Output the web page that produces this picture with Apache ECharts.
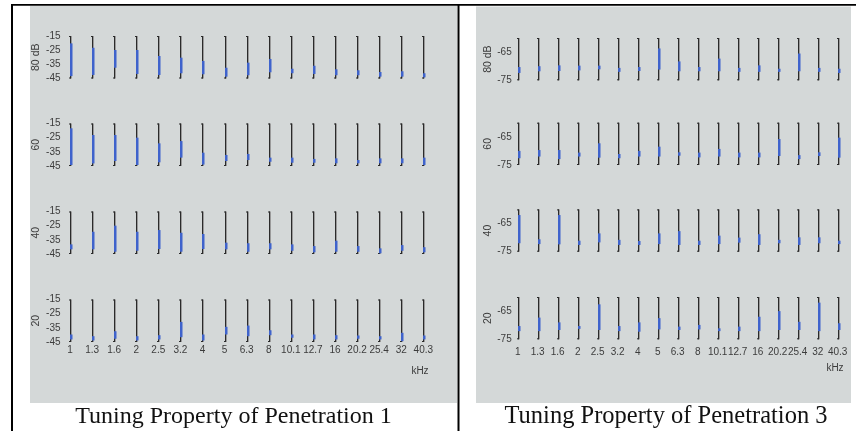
<!DOCTYPE html>
<html><head><meta charset="utf-8">
<script src="https://cdn.jsdelivr.net/npm/echarts@6/dist/echarts.min.js"></script>
<style>html,body{margin:0;padding:0;background:#fff}#c{width:856px;height:431px}</style>
</head><body><div id="c"></div>
<script>
// Frequencies (kHz)
const freqLabels = ['1','1.3','1.6','2','2.5','3.2','4','5','6.3','8','10.1','12.7','16','20.2','25.4','32','40.3'];
const rowLabels = ['80 dB','60','40','20'];
const p1Range = [-45, -15];
const p3Range = [-75, -60];
const p1YTicks = [-45, -35, -25, -15];
const p3YTicks = [-75, -65];
const captions = ['Tuning Property of Penetration 1', 'Tuning Property of Penetration 3'];

// Penetration 1 – blue response ranges (high / low) per level
const p1_80High = [-20.2,-23.3,-24.9,-24.9,-29.1,-30.3,-32.6,-37.4,-33.8,-31.2,-38.1,-36,-38.5,-39.2,-40.4,-39.9,-41.3];
const p1_80Low  = [-43.3,-42.5,-37.4,-41.8,-42.5,-41.3,-42,-43.7,-42.7,-40.6,-41.3,-41.8,-42.7,-42.7,-43.7,-43.7,-44.2];
const p1_60High = [-18.4,-23.1,-23.1,-25,-29,-27.4,-35.6,-37.2,-36.5,-39.1,-39.1,-40,-39.6,-40.8,-39.6,-39.6,-39.1];
const p1_60Low  = [-44.3,-43.2,-41.5,-44.3,-42.4,-39.1,-44,-41.5,-40.8,-42,-42.7,-42.7,-43.1,-43.1,-43.1,-43.1,-44.3];
const p1_40High = [-38.2,-29.3,-25,-29.3,-28.1,-30,-30.9,-37,-37.4,-37.4,-38.2,-39.4,-35.6,-39.4,-41,-38.7,-40.2];
const p1_40Low  = [-41.7,-41.7,-43.4,-42.7,-41.5,-43.4,-41.5,-41.7,-43.4,-41.7,-42.7,-43.8,-43.4,-43.4,-44.5,-42.7,-43.8];
const p1_20High = [-39.7,-40.9,-37.4,-40.9,-40.2,-30.8,-39.7,-34.3,-33.4,-36.7,-39.7,-39.7,-40.2,-40.4,-40.9,-38.5,-40.4];
const p1_20Low  = [-43.2,-43.9,-42.7,-43.9,-43.2,-41.6,-43.9,-39.7,-40.9,-40.2,-42,-43.2,-43.2,-42.7,-43.2,-44.4,-43.2];

// Penetration 3
const p3_80High = [-70.3,-70,-69.7,-69.8,-69.8,-70.6,-70.3,-63.7,-68.3,-70.3,-67.3,-70.6,-69.7,-70.9,-65.5,-70.6,-70.9];
const p3_80Low  = [-72.4,-71.8,-71.7,-71.5,-71.1,-72,-71.7,-71.2,-71.8,-71.8,-71.8,-72,-72,-72,-71.8,-72,-72.4];
const p3_60High = [-70,-69.7,-69.7,-70.6,-67.3,-71.1,-70,-68.5,-70.5,-70.6,-69.3,-70.6,-70.6,-65.8,-71.5,-70.5,-65.3];
const p3_60Low  = [-72.6,-72,-72.9,-72,-72.4,-72.6,-72,-72,-71.7,-72.3,-72,-72.3,-72.3,-71.8,-72.9,-71.8,-72.4];
const p3_40High = [-62,-70.6,-62,-71.1,-68.5,-70.8,-71.2,-68.5,-67.7,-71.1,-69.3,-70,-68.8,-70.8,-69.9,-69.9,-71.1];
const p3_40Low  = [-72,-72.3,-72.4,-72.6,-71.7,-72.6,-72.6,-72.3,-72.6,-72.6,-72.3,-71.8,-72.6,-72,-72.6,-72,-72.3];
const p3_20High = [-70.3,-67.3,-69,-70.3,-62.6,-70.3,-69,-67.5,-70.5,-69.9,-71.1,-70.5,-67,-65,-68.8,-62,-69.3];
const p3_20Low  = [-72.1,-72.1,-71.7,-71.3,-71.7,-72.1,-72.3,-71.5,-71.7,-71.5,-72.1,-72.1,-72.1,-71.7,-71.7,-72.1,-71.7];

const panels = [
  { range: p1Range, ticks: p1YTicks, high: [p1_80High,p1_60High,p1_40High,p1_20High], low: [p1_80Low,p1_60Low,p1_40Low,p1_20Low],
    left: 70, width: 353.3, tops: [36,123.5,211.5,299.5], height: 42.5, labMargin: 9.5, nameGap: 28, xMargin: 3 },
  { range: p3Range, ticks: p3YTicks, high: [p3_80High,p3_60High,p3_40High,p3_20High], low: [p3_80Low,p3_60Low,p3_40Low,p3_20Low],
    left: 517.7, width: 320, tops: [38,122.7,209.4,297], height: 42.3, labMargin: 6, nameGap: 24.5, xMargin: 8 }
];

const TXT = '#3c3c3c';
const FONT = 'Liberation Sans';
const grid = [], xAxis = [], yAxis = [], series = [];
panels.forEach((p, pi) => {
  for (let r = 0; r < 4; r++) {
    const idx = grid.length;
    grid.push({ left: p.left, top: p.tops[r], width: p.width, height: p.height, containLabel: false });
    xAxis.push({ type: 'category', gridIndex: idx, data: freqLabels, boundaryGap: false,
      axisLine: { show: false }, axisTick: { show: false }, splitLine: { show: false },
      axisLabel: { show: r === 3, interval: 0, fontSize: 10, fontFamily: FONT, color: TXT, margin: p.xMargin } });
    yAxis.push({ type: 'value', gridIndex: idx, min: p.range[0], max: p.range[1],
      axisLine: { show: false }, axisTick: { show: false }, splitLine: { show: false },
      axisLabel: { customValues: p.ticks, fontSize: 10, fontFamily: FONT, color: TXT, margin: p.labMargin },
      name: rowLabels[r], nameLocation: 'middle', nameRotate: 90, nameGap: p.nameGap,
      nameTextStyle: { fontSize: 10.5, fontFamily: FONT, color: TXT } });
    const yMin = p.range[0], yMax = p.range[1];
    const data = freqLabels.map((f, i) => [i, p.low[r][i], p.high[r][i]]);
    series.push({ type: 'custom', xAxisIndex: idx, yAxisIndex: idx, data, clip: false, silent: true,
      renderItem: (params, api) => {
        const i = api.value(0);
        const t = api.coord([i, yMax]), b = api.coord([i, yMin]);
        const hi = api.coord([i, api.value(2)]), lo = api.coord([i, api.value(1)]);
        const x = Math.round(t[0]);
        return { type: 'group', children: [
          { type: 'line', shape: { x1: x + 1.5, y1: t[1], x2: x + 1.5, y2: b[1] }, style: { stroke: '#9a9a9a', lineWidth: 1 } },
          { type: 'line', shape: { x1: x + 0.5, y1: t[1], x2: x + 0.5, y2: b[1] }, style: { stroke: '#2a2a2a', lineWidth: 1 } },
          { type: 'line', shape: { x1: x - 1, y1: t[1] + 0.5, x2: x + 1, y2: t[1] + 0.5 }, style: { stroke: '#2a2a2a', lineWidth: 1 } },
          { type: 'line', shape: { x1: x - 1, y1: b[1] - 0.5, x2: x + 1, y2: b[1] - 0.5 }, style: { stroke: '#2a2a2a', lineWidth: 1 } },
          { type: 'rect', shape: { x: x, y: hi[1], width: 2.5, height: lo[1] - hi[1] }, style: { fill: '#3f63cc' } }
        ] };
      } });
  }
});

const graphic = [
  { type: 'rect', z: -10, shape: { x: 30, y: 6, width: 427, height: 397 }, style: { fill: '#d4d8d8' } },
  { type: 'rect', z: -10, shape: { x: 476, y: 6.5, width: 375, height: 396.5 }, style: { fill: '#d4d8d8' } },
  { type: 'line', shape: { x1: 11, y1: 4.8, x2: 856, y2: 4.8 }, style: { stroke: '#000', lineWidth: 1.8 } },
  { type: 'line', shape: { x1: 12, y1: 4, x2: 12, y2: 431 }, style: { stroke: '#000', lineWidth: 2 } },
  { type: 'line', shape: { x1: 458.5, y1: 4, x2: 458.5, y2: 431 }, style: { stroke: '#000', lineWidth: 2 } },
  { type: 'text', x: 420, y: 371, style: { text: 'kHz', fontSize: 10, fontFamily: FONT, fill: TXT, align: 'center', verticalAlign: 'middle' } },
  { type: 'text', x: 835, y: 368, style: { text: 'kHz', fontSize: 10, fontFamily: FONT, fill: TXT, align: 'center', verticalAlign: 'middle' } },
  { type: 'text', x: 233.5, y: 417, style: { text: captions[0], fontSize: 24, fontFamily: 'Liberation Serif', fill: '#111', align: 'center', verticalAlign: 'middle' } },
  { type: 'text', x: 666, y: 417, style: { text: captions[1], fontSize: 24.5, fontFamily: 'Liberation Serif', fill: '#111', align: 'center', verticalAlign: 'middle' } }
];

const chart = echarts.init(document.getElementById('c'), null, { renderer: 'canvas' });
chart.setOption({ animation: false, backgroundColor: '#fff', grid, xAxis, yAxis, series, graphic });
</script>
</body></html>
